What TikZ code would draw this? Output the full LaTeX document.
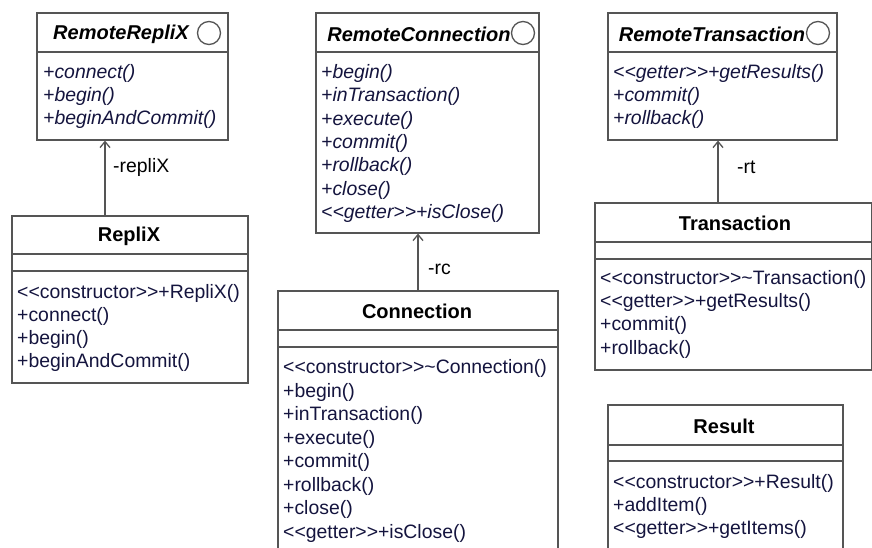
\documentclass[tikz,border=0pt]{standalone}
\usepackage{fontspec}
\setmainfont{Liberation Sans}
\usetikzlibrary{arrows.meta}
\definecolor{edge}{RGB}{85,85,85}
\definecolor{txt}{RGB}{20,20,62}
\newcommand\stereo[1]{<{}<#1>{}>}
\tikzset{
  box/.style={draw=edge, line width=1.6pt, fill=white, inner sep=0pt, anchor=north west},
  sep/.style={draw=edge, line width=1.6pt},
  title/.style={font=\fontsize{20}{23}\selectfont\bfseries, text=black, inner sep=0pt, anchor=center, yshift=-1.5pt},
  ititle/.style={title, font=\fontsize{20}{23}\selectfont\bfseries\itshape},
  meth/.style={font=\fontsize{19.4}{23}\selectfont, text=txt, inner sep=0pt, anchor=west, yshift=-1.5pt},
  imeth/.style={meth, font=\fontsize{19.4}{23}\selectfont\itshape},
  lbl/.style={font=\fontsize{19.4}{23}\selectfont, text=black, inner sep=0pt, anchor=west, yshift=-1.5pt},
  assoc/.style={draw=edge, line width=1.6pt, -{Straight Barb[length=6pt,width=10pt,line width=1.3pt]}},
  iface/.style={circle, draw=edge, line width=1.3pt, minimum size=23pt, inner sep=0pt},
}
\begin{document}
\begin{tikzpicture}[x=1pt,y=-1pt]
\useasboundingbox (0,0) rectangle (872,547);
\clip (0,0) rectangle (872,547);

% ---------- RemoteRepliX ----------
\node[box, minimum width=191pt, minimum height=127pt] (rrx) at (36,12) {};
\draw[sep] ([yshift=-40pt]rrx.north west) -- ([yshift=-40pt]rrx.north east);
\node[ititle] (rrxT) at (121,33) {RemoteRepliX};
\node[iface] (rrxC) at (209,33) {};
\node[imeth] (rrx1) at (43,72) {+connect()};
\node[imeth] (rrx2) at (43,95) {+begin()};
\node[imeth] (rrx3) at (43,118) {+beginAndCommit()};

% ---------- RepliX ----------
\node[box, minimum width=236pt, minimum height=167pt] (rpx) at (11,215) {};
\draw[sep] ([yshift=-39pt]rpx.north west) -- ([yshift=-39pt]rpx.north east);
\draw[sep] ([yshift=-56pt]rpx.north west) -- ([yshift=-56pt]rpx.north east);
\node[title] (rpxT) at (129,235) {RepliX};
\node[meth] (rpx1) at (17,292) {\stereo{constructor}+RepliX()};
\node[meth] (rpx2) at (17,315) {+connect()};
\node[meth] (rpx3) at (17,338) {+begin()};
\node[meth] (rpx4) at (17,361) {+beginAndCommit()};

% ---------- RemoteConnection ----------
\node[box, minimum width=223pt, minimum height=220pt] (rcn) at (315,12) {};
\draw[sep] ([yshift=-40pt]rcn.north west) -- ([yshift=-40pt]rcn.north east);
\node[ititle] (rcnT) at (419,33) {RemoteConnection};
\node[iface] (rcnC) at (523,33) {};
\node[imeth] (rcn1) at (321,72) {+begin()};
\node[imeth] (rcn2) at (321,95.3) {+inTransaction()};
\node[imeth] (rcn3) at (321,118.7) {+execute()};
\node[imeth] (rcn4) at (321,142) {+commit()};
\node[imeth] (rcn5) at (321,165.3) {+rollback()};
\node[imeth] (rcn6) at (321,188.7) {+close()};
\node[imeth] (rcn7) at (321,212) {\stereo{getter}+isClose()};

% ---------- Connection ----------
\node[box, minimum width=280pt, minimum height=290pt] (con) at (277,290) {};
\draw[sep] ([yshift=-40pt]con.north west) -- ([yshift=-40pt]con.north east);
\draw[sep] ([yshift=-57pt]con.north west) -- ([yshift=-57pt]con.north east);
\node[title] (conT) at (417,310) {Connection};
\node[meth] (con1) at (283,367) {\stereo{constructor}\textasciitilde Connection()};
\node[meth] (con2) at (283,390.6) {+begin()};
\node[meth] (con3) at (283,414.1) {+inTransaction()};
\node[meth] (con4) at (283,437.7) {+execute()};
\node[meth] (con5) at (283,461.3) {+commit()};
\node[meth] (con6) at (283,484.9) {+rollback()};
\node[meth] (con7) at (283,508.4) {+close()};
\node[meth] (con8) at (283,532) {\stereo{getter}+isClose()};

% ---------- RemoteTransaction ----------
\node[box, minimum width=229pt, minimum height=127pt] (rtr) at (607,12) {};
\draw[sep] ([yshift=-40pt]rtr.north west) -- ([yshift=-40pt]rtr.north east);
\node[ititle] (rtrT) at (712,33) {RemoteTransaction};
\node[iface] (rtrC) at (818,33) {};
\node[imeth] (rtr1) at (613,72) {\stereo{getter}+getResults()};
\node[imeth] (rtr2) at (613,95) {+commit()};
\node[imeth] (rtr3) at (613,118) {+rollback()};

% ---------- Transaction ----------
\node[box, minimum width=277pt, minimum height=167pt] (trn) at (594,202) {};
\draw[sep] ([yshift=-40pt]trn.north west) -- ([yshift=-40pt]trn.north east);
\draw[sep] ([yshift=-57pt]trn.north west) -- ([yshift=-57pt]trn.north east);
\node[title] (trnT) at (735,222) {Transaction};
\node[meth] (trn1) at (600,277.5) {\stereo{constructor}\textasciitilde Transaction()};
\node[meth] (trn2) at (600,300.8) {\stereo{getter}+getResults()};
\node[meth] (trn3) at (600,324.2) {+commit()};
\node[meth] (trn4) at (600,347.5) {+rollback()};

% ---------- Result ----------
\node[box, minimum width=235pt, minimum height=170pt] (res) at (607,404) {};
\draw[sep] ([yshift=-41pt]res.north west) -- ([yshift=-41pt]res.north east);
\draw[sep] ([yshift=-57pt]res.north west) -- ([yshift=-57pt]res.north east);
\node[title] (resT) at (724,425) {Result};
\node[meth] (res1) at (613,482) {\stereo{constructor}+Result()};
\node[meth] (res2) at (613,505) {+addItem()};
\node[meth] (res3) at (613,528) {\stereo{getter}+getItems()};

% ---------- associations ----------
\coordinate (ax1) at (105,0);
\coordinate (ax2) at (418,0);
\coordinate (ax3) at (718,0);
\draw[assoc] (ax1 |- rpx.north) -- (ax1 |- rrx.south);
\draw[assoc] (ax2 |- con.north) -- (ax2 |- rcn.south);
\draw[assoc] (ax3 |- trn.north) -- (ax3 |- rtr.south);
\node[lbl] (l1) at (113,166) {-repliX};
\node[lbl] (l2) at (428,268) {-rc};
\node[lbl] (l3) at (737,166) {-rt};
\end{tikzpicture}
\end{document}
